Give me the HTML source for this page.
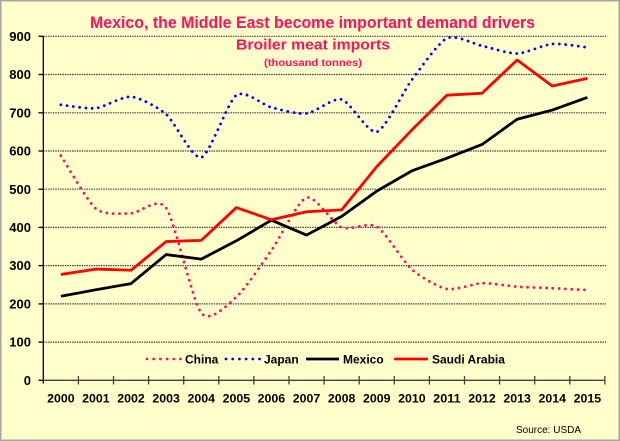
<!DOCTYPE html>
<html>
<head>
<meta charset="utf-8">
<style>
html,body{margin:0;padding:0;background:#FFFFCC;}
svg{display:block;}
text{font-family:"Liberation Sans",Arial,sans-serif;}
</style>
</head>
<body>
<svg id="c" width="620" height="441" viewBox="0 0 620 441" xmlns="http://www.w3.org/2000/svg">
  <rect x="0.75" y="0.75" width="618.5" height="439.5" fill="#FFFFCC" stroke="#A6A6A6" stroke-width="1.5"/>

  <!-- titles -->
  <text x="90" y="28" font-size="16.5" font-weight="bold" fill="#FF0F62" textLength="445" lengthAdjust="spacingAndGlyphs">Mexico, the Middle East become important demand drivers</text>
  <text x="236" y="49.5" font-size="14.5" font-weight="bold" fill="#FF0F62" textLength="154" lengthAdjust="spacingAndGlyphs">Broiler meat imports</text>
  <text x="264" y="66" font-size="10.5" font-weight="bold" fill="#FF0F62" textLength="98" lengthAdjust="spacingAndGlyphs">(thousand tonnes)</text>

  <!-- gridlines -->
  <g stroke="#3A3A3A" stroke-width="1.2" stroke-dasharray="1.4 1">
    <line x1="43.3" y1="36.3" x2="606" y2="36.3"/>
    <line x1="43.3" y1="74.5" x2="606" y2="74.5"/>
    <line x1="43.3" y1="112.8" x2="606" y2="112.8"/>
    <line x1="43.3" y1="151.0" x2="606" y2="151.0"/>
    <line x1="43.3" y1="189.2" x2="606" y2="189.2"/>
    <line x1="43.3" y1="227.4" x2="606" y2="227.4"/>
    <line x1="43.3" y1="265.6" x2="606" y2="265.6"/>
    <line x1="43.3" y1="303.9" x2="606" y2="303.9"/>
    <line x1="43.3" y1="342.1" x2="606" y2="342.1"/>
  </g>

  <!-- y axis -->
  <g stroke="#000" stroke-width="1.3">
    <line x1="43.3" y1="36.3" x2="43.3" y2="383.5"/>
    <line x1="38.5" y1="36.3" x2="43.3" y2="36.3"/>
    <line x1="38.5" y1="74.5" x2="43.3" y2="74.5"/>
    <line x1="38.5" y1="112.8" x2="43.3" y2="112.8"/>
    <line x1="38.5" y1="151.0" x2="43.3" y2="151.0"/>
    <line x1="38.5" y1="189.2" x2="43.3" y2="189.2"/>
    <line x1="38.5" y1="227.4" x2="43.3" y2="227.4"/>
    <line x1="38.5" y1="265.6" x2="43.3" y2="265.6"/>
    <line x1="38.5" y1="303.9" x2="43.3" y2="303.9"/>
    <line x1="38.5" y1="342.1" x2="43.3" y2="342.1"/>
    <line x1="38.5" y1="380.3" x2="43.3" y2="380.3"/>
  </g>

  <!-- x axis -->
  <g stroke="#404040" stroke-width="1.3" id="xaxis">
    <line x1="43.3" y1="380.3" x2="605" y2="380.3"/>
  </g>

  <!-- y labels -->
  <g font-size="13" font-weight="bold" fill="#000" text-anchor="end">
    <text x="31" y="40.9">900</text>
    <text x="31" y="79.1">800</text>
    <text x="31" y="117.4">700</text>
    <text x="31" y="155.6">600</text>
    <text x="31" y="193.8">500</text>
    <text x="31" y="232.0">400</text>
    <text x="31" y="270.2">300</text>
    <text x="31" y="308.5">200</text>
    <text x="31" y="346.7">100</text>
    <text x="31" y="384.9">0</text>
  </g>

  <!-- x labels -->
  <g font-size="12" font-weight="bold" fill="#000" text-anchor="middle">
    <text x="60.85" y="402.7" textLength="27.5" lengthAdjust="spacingAndGlyphs">2000</text>
    <text x="95.95" y="402.7" textLength="27.5" lengthAdjust="spacingAndGlyphs">2001</text>
    <text x="131.05" y="402.7" textLength="27.5" lengthAdjust="spacingAndGlyphs">2002</text>
    <text x="166.15" y="402.7" textLength="27.5" lengthAdjust="spacingAndGlyphs">2003</text>
    <text x="201.25" y="402.7" textLength="27.5" lengthAdjust="spacingAndGlyphs">2004</text>
    <text x="236.35" y="402.7" textLength="27.5" lengthAdjust="spacingAndGlyphs">2005</text>
    <text x="271.45" y="402.7" textLength="27.5" lengthAdjust="spacingAndGlyphs">2006</text>
    <text x="306.55" y="402.7" textLength="27.5" lengthAdjust="spacingAndGlyphs">2007</text>
    <text x="341.65" y="402.7" textLength="27.5" lengthAdjust="spacingAndGlyphs">2008</text>
    <text x="376.75" y="402.7" textLength="27.5" lengthAdjust="spacingAndGlyphs">2009</text>
    <text x="411.85" y="402.7" textLength="27.5" lengthAdjust="spacingAndGlyphs">2010</text>
    <text x="446.95" y="402.7" textLength="27.5" lengthAdjust="spacingAndGlyphs">2011</text>
    <text x="482.05" y="402.7" textLength="27.5" lengthAdjust="spacingAndGlyphs">2012</text>
    <text x="517.15" y="402.7" textLength="27.5" lengthAdjust="spacingAndGlyphs">2013</text>
    <text x="552.25" y="402.7" textLength="27.5" lengthAdjust="spacingAndGlyphs">2014</text>
    <text x="587.35" y="402.7" textLength="27.5" lengthAdjust="spacingAndGlyphs">2015</text>
  </g>

  <!-- series -->
  <path id="china" fill="none" stroke="#FF0F62" stroke-width="2.8" stroke-linecap="round" stroke-dasharray="0 6.3"/>
  <path id="japan" fill="none" stroke="#0000FF" stroke-width="2.8" stroke-linecap="round" stroke-dasharray="0 6.3"/>
  <path id="mexico" fill="none" stroke="#000000" stroke-width="2.8" stroke-linejoin="round"/>
  <path id="saudi" fill="none" stroke="#FF0000" stroke-width="2.8" stroke-linejoin="round"/>

  <!-- legend -->
  <line x1="147" y1="359" x2="182" y2="359" stroke="#FF0F62" stroke-width="2.8" stroke-linecap="round" stroke-dasharray="0 6.7"/>
  <text x="185" y="363.5" font-size="12" font-weight="bold" fill="#000">China</text>
  <line x1="226" y1="359" x2="260" y2="359" stroke="#0000FF" stroke-width="2.8" stroke-linecap="round" stroke-dasharray="0 6.7"/>
  <text x="264" y="363.5" font-size="12" font-weight="bold" fill="#000">Japan</text>
  <line x1="306" y1="359" x2="339" y2="359" stroke="#000" stroke-width="2.8"/>
  <text x="343" y="363.5" font-size="12" font-weight="bold" fill="#000">Mexico</text>
  <line x1="394" y1="359" x2="428" y2="359" stroke="#FF0000" stroke-width="2.8"/>
  <text x="432" y="363.5" font-size="12" font-weight="bold" fill="#000">Saudi Arabia</text>

  <text x="516" y="433" font-size="10" fill="#000" textLength="65" lengthAdjust="spacingAndGlyphs">Source: USDA</text>
</svg>
<script>
(function(){
  function X(k){return 60.85+35.1*k;}
  function Y(v){return 380.3-v*0.3822;}
  var china=[588,449,437,451,176,218,340,478,400,402,290,239,254,245,241,236];
  var japan=[721,712,742,696,583,746,714,698,735,650,786,895,875,855,880,871];
  var mexico=[220,237,253,329,317,365,419,380,429,495,548,581,617,683,707,740];
  var saudi=[277,291,288,363,366,452,420,441,446,559,655,746,751,838,770,790];
  var T=0.12;
  function pts(d){return d.map(function(v,i){return [X(i),Y(v)];});}
  function straight(d){
    var p=pts(d),s="M"+p[0][0].toFixed(2)+" "+p[0][1].toFixed(2);
    for(var i=1;i<p.length;i++) s+=" L"+p[i][0].toFixed(2)+" "+p[i][1].toFixed(2);
    return s;
  }
  function smooth(d){
    var p=pts(d),n=p.length,s="M"+p[0][0].toFixed(2)+" "+p[0][1].toFixed(2);
    for(var i=0;i<n-1;i++){
      var p0=p[i>0?i-1:i],p1=p[i],p2=p[i+1],p3=p[i+2<n?i+2:i+1];
      var c1x=p1[0]+(p2[0]-p0[0])*T,c1y=p1[1]+(p2[1]-p0[1])*T;
      var c2x=p2[0]-(p3[0]-p1[0])*T,c2y=p2[1]-(p3[1]-p1[1])*T;
      s+=" C"+c1x.toFixed(2)+" "+c1y.toFixed(2)+" "+c2x.toFixed(2)+" "+c2y.toFixed(2)+" "+p2[0].toFixed(2)+" "+p2[1].toFixed(2);
    }
    return s;
  }
  document.getElementById("china").setAttribute("d",smooth(china));
  document.getElementById("japan").setAttribute("d",smooth(japan));
  document.getElementById("mexico").setAttribute("d",straight(mexico));
  document.getElementById("saudi").setAttribute("d",straight(saudi));
  var g=document.getElementById("xaxis"),ns="http://www.w3.org/2000/svg";
  for(var k=1;k<=16;k++){
    var l=document.createElementNS(ns,"line"),x=43.3+35.1*k;
    l.setAttribute("x1",x);l.setAttribute("x2",x);
    l.setAttribute("y1",376);l.setAttribute("y2",384.5);
    g.appendChild(l);
  }
})();
</script>
</body>
</html>
